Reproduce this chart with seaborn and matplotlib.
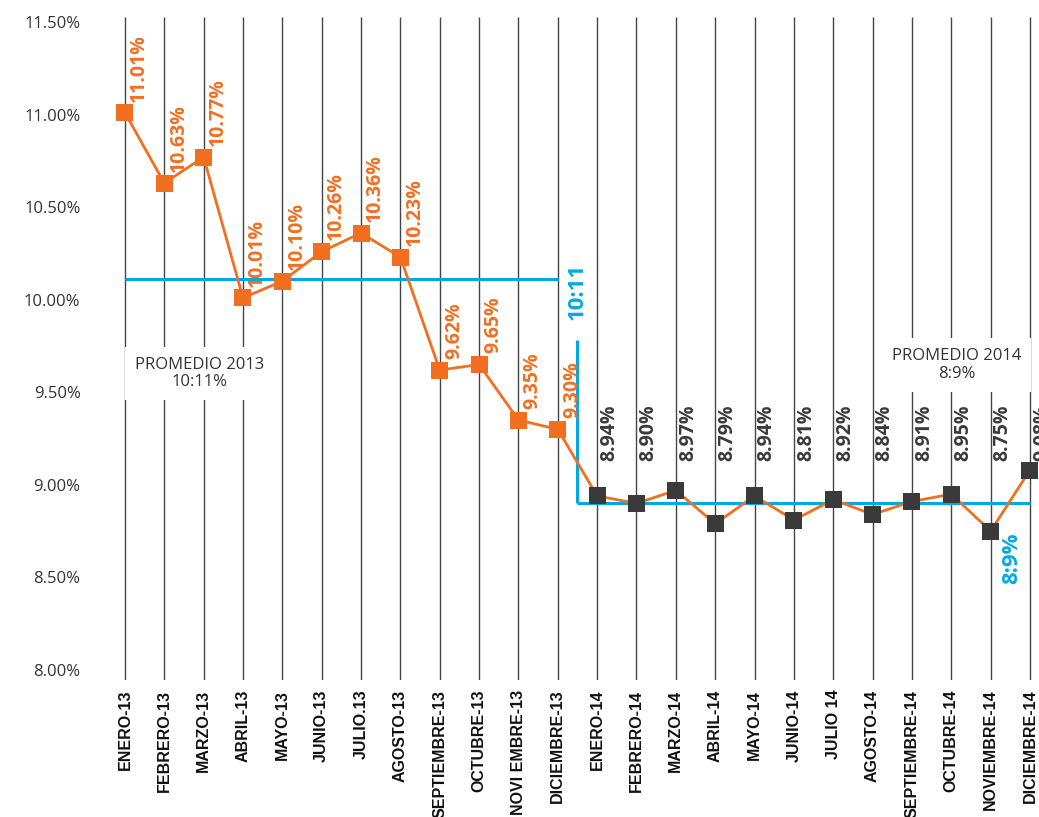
import matplotlib
matplotlib.use("Agg")
import matplotlib.pyplot as plt
import seaborn as sns
import pandas as pd
import numpy as np

# --- data -------------------------------------------------------------
meses = ["ENERO-13", "FEBRERO-13", "MARZO-13", "ABRIL-13", "MAYO-13", "JUNIO-13",
         "JULIO.13", "AGOSTO-13", "SEPTIEMBRE-13", "OCTUBRE-13", "NOVI EMBRE-13",
         "DICIEMBRE-13", "ENERO-14", "FEBRERO-14", "MARZO-14", "ABRIL-14", "MAYO-14",
         "JUNIO-14", "JULIO 14", "AGOSTO-14", "SEPTIEMBRE-14", "OCTUBRE-14",
         "NOVIEMBRE-14", "DICIEMBRE-14"]
tasa_2013 = [11.01, 10.63, 10.77, 10.01, 10.10, 10.26, 10.36, 10.23, 9.62, 9.65, 9.35, 9.30]
tasa_2014 = [8.94, 8.90, 8.97, 8.79, 8.94, 8.81, 8.92, 8.84, 8.91, 8.95, 8.75, 9.08]
promedio_2013 = 10.11
promedio_2014 = 8.90
y_ticks = [8.0, 8.5, 9.0, 9.5, 10.0, 10.5, 11.0, 11.5]

# --- styling ----------------------------------------------------------
NARANJA = "#F26F21"
GRIS = "#3A3A3A"
AZUL = "#00A9E6"
LINEA = "#444444"

sns.set_style("white")
plt.rcParams["font.family"] = ["Open Sans", "DejaVu Sans"]

df = pd.DataFrame({
    "pos": np.arange(len(meses)),
    "mes": meses,
    "tasa": tasa_2013 + tasa_2014,
    "anio": ["2013"] * len(tasa_2013) + ["2014"] * len(tasa_2014),
})

fig = plt.figure(figsize=(10.39, 8.17), dpi=100)
ax = fig.add_axes([0.0962, 0.1677, 0.9038, 0.8115])

y_lo, y_hi = 7.946, 11.527
x_lo, x_hi = -0.635, 23.229
ax.set_xlim(x_lo, x_hi)
ax.set_ylim(y_lo, y_hi)

# vertical month guides
ax.vlines(df["pos"], y_lo, y_hi, color=LINEA, lw=1.0, zorder=1)

# yearly averages
n13 = len(tasa_2013)
ax.hlines(promedio_2013, 0, n13 - 1, color=AZUL, lw=2.2, zorder=2)
ax.hlines(promedio_2014, n13 - 0.5, len(meses) - 1, color=AZUL, lw=2.2, zorder=2)
ax.vlines(n13 - 0.5, promedio_2014, 9.78, color=AZUL, lw=2.2, zorder=2)

# series line and markers
sns.lineplot(data=df, x="pos", y="tasa", color=NARANJA, lw=2.0, ax=ax, zorder=3)
sns.scatterplot(data=df, x="pos", y="tasa", hue="anio",
                palette={"2013": NARANJA, "2014": GRIS}, marker="s", s=150,
                edgecolor="none", legend=False, ax=ax, zorder=4)

# value labels
for p, v, a in zip(df["pos"], df["tasa"], df["anio"]):
    if a == "2013":
        ax.annotate(f"{v:.2f}%", xy=(p, v), xytext=(3, 8), textcoords="offset points",
                    rotation=90, ha="left", va="bottom", color=NARANJA,
                    fontsize=14, fontweight="bold", annotation_clip=False, zorder=5)
    else:
        ax.annotate(f"{v:.2f}%", xy=(p, 9.13), xytext=(1.5, 0), textcoords="offset points",
                    rotation=90, ha="left", va="bottom", color=GRIS,
                    fontsize=14, fontweight="bold", annotation_clip=False, zorder=5)

# average annotations
box = dict(boxstyle="square,pad=0.6", fc="white", ec="none")
ax.text(1.906, 9.601, "PROMEDIO 2013\n10:11%", ha="center", va="center",
        fontsize=12, color="#333333", linespacing=1.15, bbox=box, zorder=2.5)
ax.text(21.14, 9.647, "PROMEDIO 2014\n8:9%", ha="center", va="center",
        fontsize=12, color="#333333", linespacing=1.1, bbox=box, zorder=2.5)
ax.text(n13 - 0.5, 10.20, "10:11", rotation=90, ha="center", va="top",
        color=AZUL, fontsize=16, fontweight="bold", zorder=5)
ax.text(22.54, 8.74, "8:9%", rotation=90, ha="center", va="top",
        color=AZUL, fontsize=16, fontweight="bold", zorder=5)

# axes
ax.set_yticks(y_ticks)
ax.set_yticklabels([f"{t:.2f}%" for t in y_ticks], fontsize=12, color="#333333")
ax.set_xticks(df["pos"])
ax.set_xticklabels(meses, rotation=90, fontsize=11.5, fontweight="bold", color="#111111",
                   va="top", ha="center", family=["Liberation Sans", "DejaVu Sans"])
ax.tick_params(axis="y", length=0, pad=14)
ax.tick_params(axis="x", length=0, pad=7)
ax.set_xlabel("")
ax.set_ylabel("")
sns.despine(ax=ax, left=True, bottom=True)

fig.savefig("out.png", dpi=100)
